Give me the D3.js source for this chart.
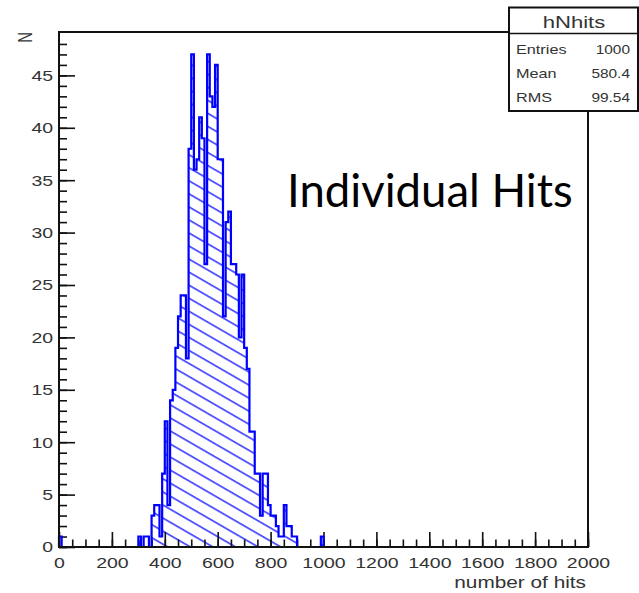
<!DOCTYPE html>
<html>
<head>
<meta charset="utf-8">
<script src="https://cdn.jsdelivr.net/npm/d3@7"></script>
<style>
  body { margin: 0; background: #fff; }
  svg { display: block; }
  .root-text { font-family: "Liberation Sans", Arial, sans-serif; fill: #333; }
</style>
</head>
<body>
<div id="chart"></div>
<script>
// hNhits contents: lower edge of each filled bin and its entries (other bins are empty)
const binWidth = 10;
const binLow = [0, 300, 320, 330, 350, 360, 370, 380, 390,
    400, 410, 420, 430, 440, 450, 460, 470, 480, 490,
    500, 510, 520, 530, 540, 550, 560, 570, 580, 590,
    600, 610, 620, 630, 640, 650, 660, 670, 680, 690,
    700, 710, 720, 730, 740, 750, 760, 770, 780, 790,
    800, 810, 820, 830, 840, 850, 860, 870, 880, 890, 990];
const binCount = [1, 1, 1, 1, 3, 4, 4, 1, 7,
    12, 4, 14, 15, 19, 22, 24, 24, 18, 38,
    47, 36, 37, 41, 39, 27, 47, 43, 42, 46,
    37, 37, 22, 31, 32, 27, 27, 26, 20, 26,
    19, 17, 11, 11, 7, 7, 3, 7, 7, 4,
    3, 3, 2, 1, 1, 4, 2, 2, 1, 1, 1];

const xRange = [0, 2000];
const xTickValues = [0, 200, 400, 600, 800, 1000, 1200, 1400, 1600, 1800, 2000];
const yTickValues = [0, 5, 10, 15, 20, 25, 30, 35, 40, 45];
const yMax = 49.14;

const histName = "hNhits";
const statLabels = ["Entries", "Mean", "RMS"];
const statValues = ["1000", "580.4", "99.54"];

const width = 639, height = 593;
const stretch = 1.3; // the ROOT picture was pasted a bit wider than tall

const svg = d3.select("#chart").append("svg")
    .attr("width", width)
    .attr("height", height);

svg.append("rect").attr("width", width).attr("height", height).attr("fill", "#fff");

const x = d3.scaleLinear().domain(xRange).range([59, 588]);
const y = d3.scaleLinear().domain([0, yMax]).range([547, 32]);

// hatch like ROOT fill style 3004
const defs = svg.append("defs");
const hatch = defs.append("pattern")
    .attr("id", "hatch")
    .attr("patternUnits", "userSpaceOnUse")
    .attr("width", 12)
    .attr("height", 11.3)
    .attr("patternTransform", "rotate(30)");
hatch.append("line")
    .attr("x1", -1).attr("x2", 13)
    .attr("y1", 5.6).attr("y2", 5.6)
    .attr("stroke", "#1414ff")
    .attr("stroke-width", 1.35);

// full set of bins, empty ones included, so the outline runs along the bottom
const countByLow = new Map(binLow.map((b, i) => [b, binCount[i]]));
const bins = d3.range(xRange[0], xRange[1], binWidth).map(lo => ({
    lo: lo,
    hi: lo + binWidth,
    n: countByLow.get(lo) || 0
}));

const path = d3.path();
path.moveTo(x(xRange[0]), y(0));
bins.forEach(b => {
    path.lineTo(x(b.lo), y(b.n));
    path.lineTo(x(b.hi), y(b.n));
});
path.lineTo(x(xRange[1]), y(0));

svg.append("path")
    .attr("d", path.toString())
    .attr("fill", "url(#hatch)")
    .attr("stroke", "none");

// axes: ticks point inside the frame
function styleAxis(g) {
    g.select(".domain").remove();
    g.selectAll(".tick line").attr("stroke", "#111").attr("stroke-width", 1.6);
    g.selectAll("text")
        .attr("class", "root-text")
        .style("font-size", "15px")
        .attr("transform", `scale(${stretch},1)`);
}

svg.append("g")
    .attr("transform", `translate(0,${y(0)})`)
    .call(d3.axisBottom(x).tickValues(d3.range(0, 2001, 50)).tickSize(-7.5).tickFormat(""))
    .call(styleAxis);
svg.append("g")
    .attr("transform", `translate(0,${y(0)})`)
    .call(d3.axisBottom(x).tickValues(xTickValues).tickSize(-15).tickPadding(10).tickFormat(d3.format("d")))
    .call(styleAxis)
    .selectAll("text").attr("font-family", null);

svg.append("g")
    .attr("transform", `translate(${x(0)},0)`)
    .call(d3.axisLeft(y).tickValues(d3.range(0, 49, 1)).tickSize(-8).tickFormat(""))
    .call(styleAxis);
svg.append("g")
    .attr("transform", `translate(${x(0)},0)`)
    .call(d3.axisLeft(y).tickValues(yTickValues).tickSize(-16).tickPadding(4.5).tickFormat(d3.format("d")))
    .call(styleAxis);

// histogram outline on top of the hatching
svg.append("path")
    .attr("d", path.toString())
    .attr("fill", "none")
    .attr("stroke", "#0000ff")
    .attr("stroke-width", 2.2)
    .attr("stroke-linejoin", "miter");

// frame
svg.append("rect")
    .attr("x", x(xRange[0])).attr("y", y(yMax))
    .attr("width", x(xRange[1]) - x(xRange[0]))
    .attr("height", y(0) - y(yMax))
    .attr("fill", "none")
    .attr("stroke", "#111")
    .attr("stroke-width", 2);

// axis titles
svg.append("text")
    .attr("class", "root-text")
    .attr("transform", `translate(586,588) scale(${stretch},1)`)
    .attr("text-anchor", "end")
    .style("font-size", "16px")
    .text("number of hits");

svg.append("text")
    .attr("class", "root-text")
    .attr("transform", `translate(32,32) scale(${stretch},1) rotate(-90)`)
    .attr("text-anchor", "end")
    .style("font-size", "15px")
    .text("N");

// statistics box
const box = svg.append("g");
box.append("rect")
    .attr("x", 509).attr("y", 7.5)
    .attr("width", 129).attr("height", 103.5)
    .attr("fill", "#fff")
    .attr("stroke", "#111")
    .attr("stroke-width", 2);
box.append("line")
    .attr("x1", 509).attr("x2", 638)
    .attr("y1", 33.5).attr("y2", 33.5)
    .attr("stroke", "#111").attr("stroke-width", 1.6);
box.append("text")
    .attr("class", "root-text")
    .attr("transform", `translate(574,28) scale(${stretch},1)`)
    .attr("text-anchor", "middle")
    .style("font-size", "17px")
    .text(histName);
statLabels.forEach((label, i) => {
    const yy = 54 + i * 24;
    box.append("text")
        .attr("class", "root-text")
        .attr("transform", `translate(516,${yy}) scale(${stretch},1)`)
        .style("font-size", "12.5px")
        .text(label);
    box.append("text")
        .attr("class", "root-text")
        .attr("transform", `translate(630,${yy}) scale(${stretch * 0.95},1)`)
        .attr("text-anchor", "end")
        .style("font-size", "12.5px")
        .text(statValues[i]);
});

// slide annotation
svg.append("text")
    .attr("x", 287)
    .attr("y", 207)
    .attr("font-family", "Lato, 'Open Sans', sans-serif")
    .style("font-size", "45.5px")
    .attr("fill", "#000")
    .text("Individual Hits");
</script>
</body>
</html>
